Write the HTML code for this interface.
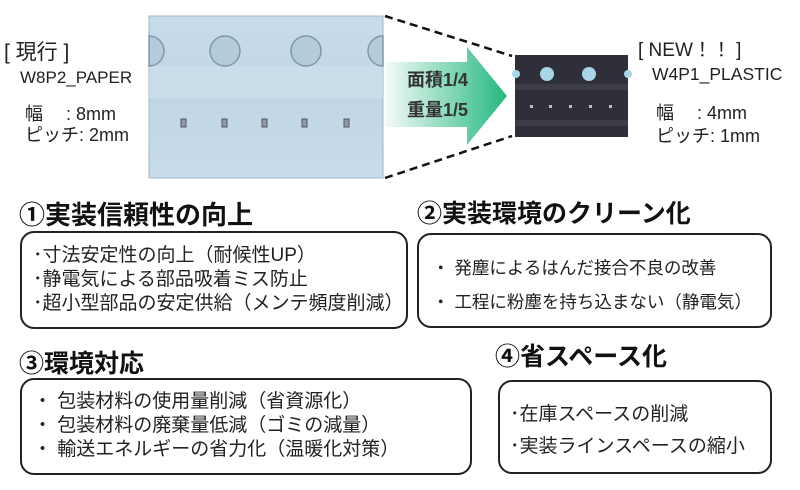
<!DOCTYPE html>
<html><head><meta charset="utf-8"><style>
body{margin:0;width:800px;height:490px;background:#fff;position:relative;overflow:hidden;font-family:"Liberation Sans","Noto Sans CJK JP",sans-serif;color:#222}
.t{position:absolute;white-space:nowrap;line-height:1}
.box{position:absolute;border:2px solid #222;border-radius:14px;box-sizing:border-box}
.h{position:absolute;white-space:nowrap;font-size:25px;line-height:1;color:#111;font-weight:bold}
.l{position:absolute;white-space:nowrap;font-size:19px;line-height:1;color:#222}
</style></head><body>
<svg width="800" height="190" style="position:absolute;left:0;top:0">
<defs>
<linearGradient id="g" x1="0" x2="1"><stop offset="0" stop-color="#f4fbf8"/><stop offset="1" stop-color="#25b880"/></linearGradient>
<linearGradient id="p" x1="0" y1="0" x2="0" y2="1"><stop offset="0" stop-color="#c6dceb"/><stop offset="0.5" stop-color="#c0d6e5"/><stop offset="1" stop-color="#c8dcea"/></linearGradient>
</defs>
<rect x="149" y="16" width="234" height="162" fill="url(#p)" stroke="#9fb6c6" stroke-width="1"/>
<rect x="149" y="66" width="234" height="32" fill="#d0e1ec" opacity="0.6"/>
<g fill="#b4cbdb" stroke="#7f97a8" stroke-width="1.5">
<circle cx="225" cy="51" r="15"/><circle cx="306" cy="51" r="15"/>
<path d="M149 36 A15 15 0 0 1 149 66Z"/><path d="M383 36 A15 15 0 0 0 383 66Z"/>
</g>
<g fill="#8a9aa6" stroke="#556">
<rect x="181" y="119" width="5" height="8"/><rect x="222" y="119" width="5" height="8"/><rect x="262" y="119" width="5" height="8"/><rect x="302" y="119" width="5" height="8"/><rect x="344" y="119" width="5" height="8"/>
</g>
<path d="M385 62 H467 V47 L507 96 L467 145 V127 H385Z" fill="url(#g)"/>
<line x1="385" y1="16" x2="512" y2="56" stroke="#111" stroke-width="2.5" stroke-dasharray="8,5"/>
<line x1="385" y1="178" x2="512" y2="136" stroke="#111" stroke-width="2.5" stroke-dasharray="8,5"/>
<rect x="515" y="55" width="113" height="82" fill="#2e2f38"/>
<rect x="515" y="84" width="113" height="6" fill="#3c3d47"/>
<rect x="515" y="120" width="113" height="6" fill="#3c3d47"/>
<g fill="#a8d6e8"><circle cx="547" cy="74" r="7"/><circle cx="589" cy="74" r="7"/><circle cx="516" cy="74" r="4"/><circle cx="628" cy="74" r="4"/></g>
<g fill="#bbb"><rect x="530" y="105" width="3" height="3"/><rect x="549" y="105" width="3" height="3"/><rect x="569" y="105" width="3" height="3"/><rect x="589" y="105" width="3" height="3"/><rect x="609" y="105" width="3" height="3"/></g>
</svg>
<div class="t" style="left:4px;top:42px;font-size:21px">[ 現行 ]</div>
<div class="t" style="left:20px;top:69px;font-size:17px">W8P2_PAPER</div>
<div class="t" style="left:25px;top:105px;font-size:18px">幅　 : 8mm</div>
<div class="t" style="left:25px;top:126px;font-size:18px">ピッチ: 2mm</div>
<div class="t" style="left:407px;top:71px;font-size:18px;font-weight:bold;color:#333">面積1/4</div>
<div class="t" style="left:407px;top:101px;font-size:18px;font-weight:bold;color:#333">重量1/5</div>
<div class="t" style="left:638px;top:41px;font-size:19px">[ NEW！！ ]</div>
<div class="t" style="left:652px;top:66px;font-size:17.5px">W4P1_PLASTIC</div>
<div class="t" style="left:656px;top:104px;font-size:18px">幅　 : 4mm</div>
<div class="t" style="left:656px;top:127px;font-size:18px">ピッチ: 1mm</div>

<div class="h" style="left:19px;top:202px;font-size:26px">①実装信頼性の向上</div>
<div class="box" style="left:20px;top:231px;width:388px;height:98px"></div>
<div class="l" style="left:33px;top:246px">･寸法安定性の向上（耐候性UP）</div>
<div class="l" style="left:33px;top:270px">･静電気による部品吸着ミス防止</div>
<div class="l" style="left:33px;top:294px">･超小型部品の安定供給（メンテ頻度削減）</div>

<div class="h" style="left:417px;top:202px">②実装環境のクリーン化</div>
<div class="box" style="left:417px;top:233px;width:355px;height:95px"></div>
<div class="l" style="left:432px;top:260px;font-size:17.5px">・ 発塵によるはんだ接合不良の改善</div>
<div class="l" style="left:432px;top:294px;font-size:17.5px">・ 工程に粉塵を持ち込まない（静電気）</div>

<div class="h" style="left:19px;top:352px">③環境対応</div>
<div class="box" style="left:20px;top:378px;width:452px;height:97px"></div>
<div class="l" style="left:33px;top:392px">・ 包装材料の使用量削減（省資源化）</div>
<div class="l" style="left:33px;top:416px">・ 包装材料の廃棄量低減（ゴミの減量）</div>
<div class="l" style="left:33px;top:440px">・ 輸送エネルギーの省力化（温暖化対策）</div>

<div class="h" style="left:495px;top:345px">④省スペース化</div>
<div class="box" style="left:498px;top:380px;width:274px;height:94px"></div>
<div class="l" style="left:510px;top:405px">･在庫スペースの削減</div>
<div class="l" style="left:510px;top:437px">･実装ラインスペースの縮小</div>
</body></html>
